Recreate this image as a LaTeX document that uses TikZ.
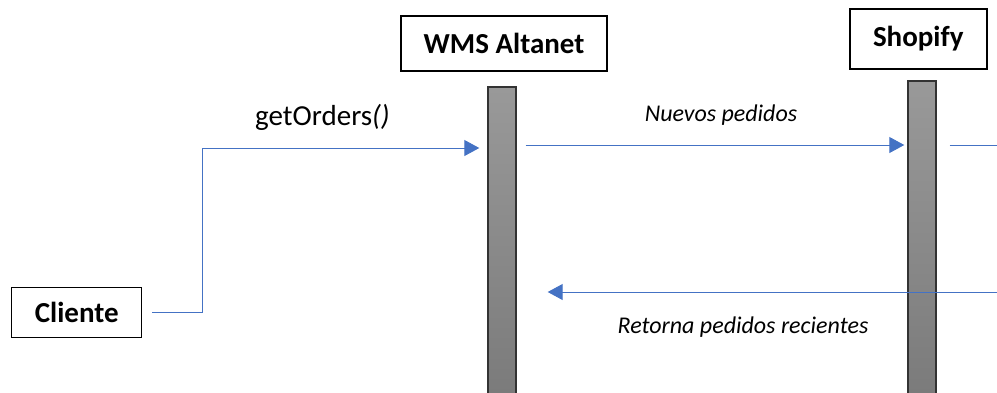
\documentclass[tikz,border=0pt]{standalone}
\usepackage{fontspec}
\setmainfont{Carlito}
\usepackage{tikz}
\usetikzlibrary{arrows.meta, positioning, calc}

\definecolor{msgblue}{HTML}{4472C4}

\begin{document}
\begin{tikzpicture}[
  x=1pt, y=-1pt,
  actor/.style={draw, line width=1.5pt, align=center, inner sep=0pt, font=\fontsize{29}{34}\selectfont\bfseries},
  life/.style={draw=black!80, line width=1.4pt, minimum width=28pt, inner sep=0pt, top color=black!40, bottom color=black!52},
  msg/.style={draw=msgblue, line width=1pt, -{Triangle[length=15pt, width=16pt]}},
  stub/.style={draw=msgblue, line width=1pt},
  call/.style={anchor=base, inner sep=0pt, font=\fontsize{29}{34}\selectfont},
  lbl/.style={anchor=base, inner sep=0pt, font=\fontsize{24}{28}\selectfont\itshape}
]
  \useasboundingbox (0,0) rectangle (997,392);

  % ----- Actores -----
  \node[actor, minimum width=206pt, minimum height=55pt] (wms)  at (504,43.5) {WMS Altanet};
  \node[actor, minimum width=137pt, minimum height=60pt] (shop) at (918.3,39) {Shopify};
  \node[actor, minimum width=130pt, minimum height=50pt] (cliente) at (76.7,312.3) {Cliente};

  % ----- Lineas de vida -----
  \node[life, minimum height=313pt] (wmsbar)  at (502,243.5) {};
  \node[life, minimum height=319pt] (shopbar) at (922,240.5) {};

  % ----- Filas de mensajes -----
  \coordinate (row1) at (0,145);
  \coordinate (row2) at (0,292);
  \coordinate (bend) at (202,148);
  \coordinate (edge1) at (997,145);
  \coordinate (edge2) at (997,292);

  % ----- Mensajes -----
  \draw[msg, shorten <=10pt, shorten >=8pt] (cliente.east) -| (bend) -- (bend -| wmsbar.west);
  \draw[msg, shorten <=9pt, shorten >=3pt] (wmsbar.east |- row1) -- (shopbar.west |- row1);
  \draw[stub, shorten <=13pt] (shopbar.east |- row1) -- (edge1);
  \draw[msg, shorten >=31pt] (edge2) -- (wmsbar.east |- row2);

  % ----- Etiquetas -----
  \node[call] (getorders) at (322.5,125) {getOrders\textit{()}};
  \node[lbl] (nuevos)   at (721,121) {Nuevos pedidos};
  \node[lbl] (retorna)  at (743,333.3) {Retorna pedidos recientes};
\end{tikzpicture}
\end{document}
